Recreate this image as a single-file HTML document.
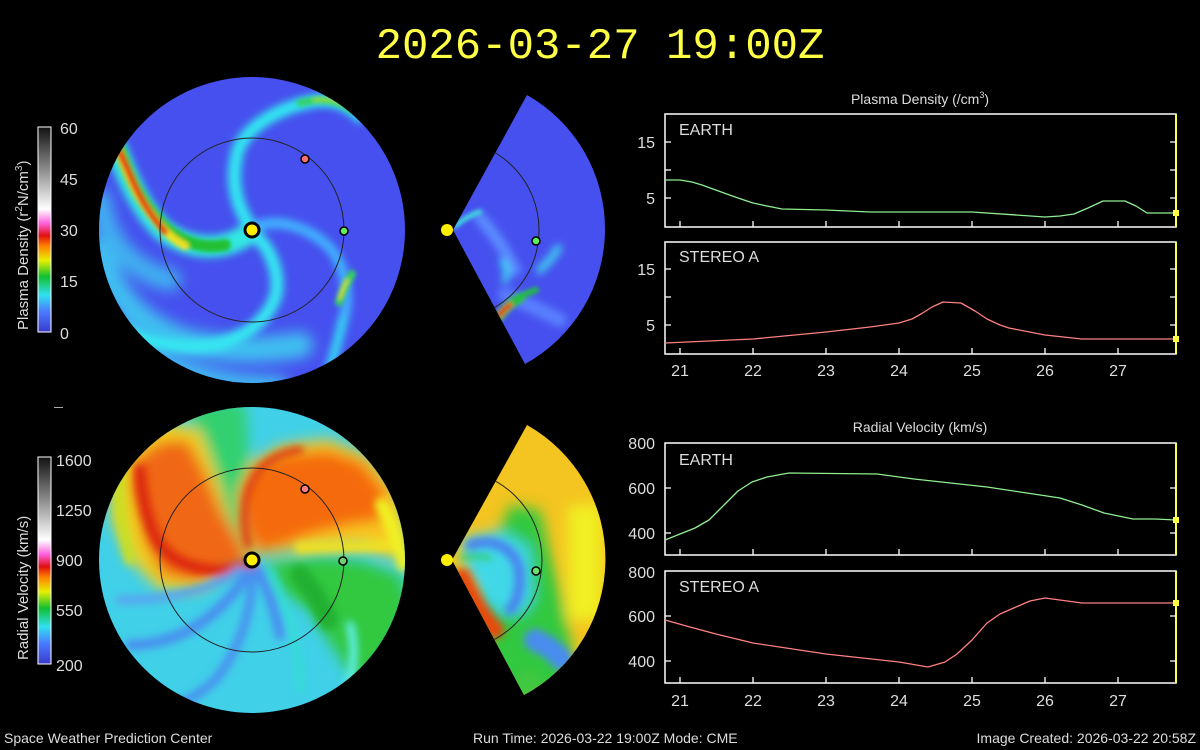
<!DOCTYPE html>
<html><head><meta charset="utf-8"><style>
body{margin:0;background:#000;width:1200px;height:750px;overflow:hidden;font-family:"Liberation Sans",sans-serif}
svg{display:block}
</style></head><body>
<svg width="1200" height="750" viewBox="0 0 1200 750" xmlns="http://www.w3.org/2000/svg">
<defs>
<linearGradient id="cbD" x1="0" y1="1" x2="0" y2="0">
<stop offset="0" stop-color="#3a3acc"/><stop offset="0.1" stop-color="#4a7bff"/><stop offset="0.18" stop-color="#30e0f0"/><stop offset="0.27" stop-color="#10c030"/><stop offset="0.35" stop-color="#e8f000"/><stop offset="0.42" stop-color="#ff8000"/><stop offset="0.47" stop-color="#e01010"/><stop offset="0.53" stop-color="#ff60e0"/><stop offset="0.6" stop-color="#ffffff"/><stop offset="1" stop-color="#111"/>
</linearGradient>
<clipPath id="c1"><circle cx="252" cy="230" r="153"/></clipPath>
<clipPath id="c2"><circle cx="252" cy="560" r="153"/></clipPath>
<clipPath id="w1"><path d="M453,230 L527,95 A154,154 0 0 1 525,364 Z"/></clipPath>
<clipPath id="w2"><path d="M452,560 L527,425 A154,154 0 0 1 524,695 Z"/></clipPath>
<filter id="bl" x="-30%" y="-30%" width="160%" height="160%"><feGaussianBlur stdDeviation="7"/></filter>
<filter id="bm" x="-30%" y="-30%" width="160%" height="160%"><feGaussianBlur stdDeviation="4"/></filter>
<filter id="bl2" x="-30%" y="-30%" width="160%" height="160%"><feGaussianBlur stdDeviation="2"/></filter>
</defs>

<text x="600" y="58" fill="#ffff44" font-family="Liberation Mono,monospace" font-size="44" text-anchor="middle">2026-03-27 19:00Z</text>

<!-- density disk -->
<g clip-path="url(#c1)">
<rect x="90" y="70" width="330" height="330" fill="#4650ee"/>
<g filter="url(#bl)" fill="none" stroke-linecap="round">
<path d="M100,250 C110,300 150,335 200,345 C240,352 270,350 300,345" stroke="#40c0f0" stroke-width="26"/>
<path d="M100,200 C105,240 130,270 170,280" stroke="#40b0f0" stroke-width="22"/>
<path d="M120,330 C160,370 220,385 280,385" stroke="#40c8f0" stroke-width="16"/>
</g>
<g filter="url(#bm)" fill="none" stroke-linecap="round">
<path d="M248,234 C225,250 195,252 165,232 C145,215 130,185 116,148" stroke="#30e8e0" stroke-width="22"/>
<path d="M250,226 C236,205 230,180 238,150 C248,125 280,108 310,102 C330,98 345,102 360,116" stroke="#30e8f0" stroke-width="13"/>
<path d="M255,235 C272,250 280,275 276,295 C268,320 245,338 215,345 C180,350 150,342 120,330" stroke="#35e8f0" stroke-width="13"/>
<path d="M258,226 C280,218 310,228 330,248 C348,270 350,300 342,325 C337,345 332,360 326,385" stroke="#40b8ff" stroke-width="10"/>
<path d="M342,320 C337,345 332,362 326,385" stroke="#30d8f0" stroke-width="8"/>
</g>
<g filter="url(#bl2)" fill="none" stroke-linecap="round">
<path d="M225,245 C200,250 175,240 158,220 C140,200 130,180 120,150" stroke="#20c030" stroke-width="12"/>
<path d="M185,246 C165,236 150,215 138,195 C130,180 124,165 118,150" stroke="#f0e020" stroke-width="8"/>
<path d="M165,232 C150,215 138,195 130,175 C125,163 121,155 116,146" stroke="#e83010" stroke-width="6"/>
<path d="M300,103 C320,98 338,100 352,110" stroke="#30d060" stroke-width="7"/>
<path d="M314,100 C330,98 340,101 348,106" stroke="#a0e020" stroke-width="3"/>
<path d="M339,302 C342,292 346,284 352,274" stroke="#30d060" stroke-width="8"/>
<path d="M340,298 C342,291 344,286 347,280" stroke="#e0e020" stroke-width="3"/>
</g>
<circle cx="252" cy="230" r="92" fill="none" stroke="#222" stroke-width="1"/>
</g>
<!-- density wedge -->
<g clip-path="url(#w1)">
<rect x="440" y="90" width="170" height="280" fill="#4650ee"/>
<g filter="url(#bm)" fill="none" stroke-linecap="round">
<path d="M480,218 C495,235 505,250 515,270" stroke="#5a8cff" stroke-width="12"/>
<path d="M505,295 C520,300 540,310 560,320" stroke="#5a80ff" stroke-width="14"/>
<path d="M540,270 C548,262 555,255 558,248" stroke="#40c8f0" stroke-width="8"/>
<path d="M503,262 C507,268 508,275 505,280" stroke="#40d0f0" stroke-width="7"/>
</g>
<g filter="url(#bl2)" fill="none" stroke-linecap="round">
<path d="M455,226 C465,218 472,214 480,212" stroke="#40e0e0" stroke-width="5"/>
<path d="M498,318 C505,308 512,302 520,298" stroke="#30c050" stroke-width="10"/>
<path d="M499,316 C503,310 507,307 510,305" stroke="#e83010" stroke-width="5"/>
<path d="M515,300 C522,295 530,292 536,290" stroke="#20c040" stroke-width="6"/>
</g>
<circle cx="449" cy="230" r="90" fill="none" stroke="#222"/>
</g>

<!-- velocity disk -->
<g clip-path="url(#c2)">
<rect x="90" y="400" width="330" height="330" fill="#40d0e8"/>
<g filter="url(#bl)" stroke-linejoin="round">
<path d="M188,402 L245,402 L250,470 L245,520 L260,560 L225,560 L210,510 Z" fill="#30d070"/>
<path d="M110,440 L160,420 L200,430 L215,470 L230,520 L250,555 L200,590 L160,590 L130,560 L112,520 Z" fill="#f0d020"/>
<path d="M255,555 L242,529 L238,492 L252,462 L282,445 L328,439 L368,455 L395,485 L405,525 L400,560 L360,545 L312,548 L282,552 Z" fill="#f8c820"/>
<path d="M268,562 L328,557 L365,562 L400,575 L410,605 L392,655 L358,685 L328,640 L310,610 L282,592 Z" fill="#30c840"/>
<path d="M248,562 L195,582 L162,575 L145,542 L130,485 L134,459 L162,441 L188,440 L205,472 L222,512 L242,545 Z" fill="#f06818"/>
<path d="M258,552 L244,528 L242,492 L255,468 L282,455 L328,450 L362,462 L385,490 L385,520 L350,525 L310,535 L285,545 Z" fill="#f56a10"/>
</g>
<g filter="url(#bm)" fill="none" stroke-linecap="round">
<path d="M250,565 C215,575 180,570 160,545 C148,525 142,500 140,470" stroke="#dc2c10" stroke-width="12"/>
<path d="M248,545 C242,520 244,495 256,475 C268,458 285,452 300,450" stroke="#e04010" stroke-width="8"/>
<path d="M120,470 C118,500 122,530 130,560" stroke="#c8e020" stroke-width="10"/>
<path d="M300,548 C330,545 360,548 390,545" stroke="#f0e020" stroke-width="12"/>
<path d="M300,575 C312,590 322,605 328,620" stroke="#20b030" stroke-width="20"/>
<path d="M382,505 C392,525 400,545 404,565" stroke="#f0f020" stroke-width="14"/>
<path d="M258,570 C268,590 276,612 280,635" stroke="#4a8cf0" stroke-width="10"/>
<path d="M248,572 C235,595 215,615 190,630 C170,640 150,645 130,645" stroke="#4a8cf0" stroke-width="10"/>
<path d="M252,575 C252,610 240,650 215,680 C205,690 190,700 175,705" stroke="#4a90f0" stroke-width="9"/>
<path d="M240,570 C210,590 170,600 120,600" stroke="#5aa0f0" stroke-width="8"/>
<path d="M270,572 C285,600 300,640 300,690" stroke="#30e0d0" stroke-width="6"/>
<path d="M350,625 C355,645 355,665 348,685" stroke="#60f0f0" stroke-width="8"/>
</g>
<circle cx="252" cy="560" r="92" fill="none" stroke="#222"/>
</g>
<!-- velocity wedge -->
<g clip-path="url(#w2)">
<rect x="440" y="420" width="170" height="280" fill="#f4c420"/>
<g filter="url(#bl)" stroke-linejoin="round">
<path d="M510,505 L540,510 L548,545 L562,600 L572,650 L560,690 L500,700 L475,600 Z" fill="#30c840"/>
<path d="M568,505 L602,505 L602,620 L568,620 Z" fill="#f0f020"/>
<path d="M462,540 L500,530 L530,548 L533,600 L520,615 L490,610 L465,570 Z" fill="#40d8e8"/>
</g>
<g filter="url(#bm)" fill="none" stroke-linecap="round">
<path d="M470,545 C490,538 510,545 518,565 C522,585 518,600 510,610" stroke="#4a80f0" stroke-width="10"/>
<path d="M535,640 C545,645 555,650 562,660" stroke="#4a8cf0" stroke-width="22"/>
<path d="M462,577 C472,600 485,620 495,630" stroke="#e84a10" stroke-width="18"/>
<path d="M462,558 C475,555 485,556 490,558" stroke="#30c840" stroke-width="4"/>
<path d="M530,680 C520,690 512,692 510,692" stroke="#40c840" stroke-width="20"/>
</g>
<circle cx="452" cy="560" r="90" fill="none" stroke="#222"/>
</g>

<!-- planets -->
<circle cx="252" cy="230" r="7" fill="#ffee00" stroke="#000" stroke-width="3"/>
<circle cx="305" cy="159" r="4" fill="#ff7070" stroke="#000" stroke-width="1.5"/>
<circle cx="344" cy="231" r="4" fill="#60ee60" stroke="#000" stroke-width="1.5"/>
<circle cx="447" cy="230" r="6" fill="#ffee00"/>
<circle cx="536" cy="241" r="4" fill="#60ee60" stroke="#000" stroke-width="1.5"/>
<circle cx="252" cy="560" r="7" fill="#ffee00" stroke="#000" stroke-width="3"/>
<circle cx="305" cy="489" r="4" fill="#ff8080" stroke="#000" stroke-width="1.5"/>
<circle cx="343" cy="561" r="4" fill="#70d070" stroke="#000" stroke-width="1.5"/>
<circle cx="447" cy="560" r="6" fill="#ffee00"/>
<circle cx="536" cy="571" r="4" fill="#70e070" stroke="#000" stroke-width="1.5"/>

<!-- colorbars -->
<rect x="38" y="127" width="13" height="205" fill="url(#cbD)" stroke="#fff" stroke-width="1"/>
<rect x="38" y="457" width="13" height="207" fill="url(#cbD)" stroke="#fff" stroke-width="1"/>
<g fill="#ddd" font-size="16">
<text x="60" y="134">60</text><text x="60" y="185">45</text><text x="60" y="236">30</text><text x="60" y="287">15</text><text x="60" y="339">0</text>
<text x="56" y="466">1600</text><text x="56" y="516">1250</text><text x="56" y="566">900</text><text x="56" y="616">550</text><text x="56" y="671">200</text>
</g>
<text transform="translate(28,330) rotate(-90)" fill="#ddd" font-size="15">Plasma Density (r<tspan font-size="10" dy="-6">2</tspan><tspan dy="6">N/cm</tspan><tspan font-size="10" dy="-6">3</tspan><tspan dy="6">)</tspan></text>
<text transform="translate(28,660) rotate(-90)" fill="#ddd" font-size="15">Radial Velocity (km/s)</text>
<rect x="54" y="407" width="9" height="1" fill="#aaa"/>

<!-- right panels -->
<g fill="none" stroke="#fff" stroke-width="1.5">
<rect x="665" y="114" width="511" height="113"/>
<rect x="665" y="242" width="511" height="112"/>
<rect x="665" y="443" width="511" height="112"/>
<rect x="665" y="571" width="511" height="112"/>
</g>
<g stroke="#ffff44" stroke-width="2"><line x1="1176" y1="114" x2="1176" y2="227"/><line x1="1176" y1="242" x2="1176" y2="354"/><line x1="1176" y1="443" x2="1176" y2="555"/><line x1="1176" y1="571" x2="1176" y2="683"/></g>
<g stroke="#fff" stroke-width="1.3">
<path d="M680,227v-6M753,227v-6M826,227v-6M899,227v-6M972,227v-6M1045,227v-6M1118,227v-6"/>
<path d="M680,354v-6M753,354v-6M826,354v-6M899,354v-6M972,354v-6M1045,354v-6M1118,354v-6"/>
<path d="M680,555v-6M753,555v-6M826,555v-6M899,555v-6M972,555v-6M1045,555v-6M1118,555v-6"/>
<path d="M680,683v-6M753,683v-6M826,683v-6M899,683v-6M972,683v-6M1045,683v-6M1118,683v-6"/>
<path d="M665,142h6M665,170h6M665,198h6M1176,142h-6M1176,170h-6M1176,198h-6"/>
<path d="M665,269h6M665,297h6M665,325h6M1176,269h-6M1176,297h-6M1176,325h-6"/>
<path d="M665,488h6M665,533h6M1176,488h-6M1176,533h-6"/>
<path d="M665,616h6M665,661h6M1176,616h-6M1176,661h-6"/>
</g>
<g fill="#ddd" font-size="16" text-anchor="end">
<text x="655" y="148">15</text><text x="655" y="204">5</text>
<text x="655" y="275">15</text><text x="655" y="331">5</text>
<text x="655" y="449">800</text><text x="655" y="494">600</text><text x="655" y="539">400</text>
<text x="655" y="578">800</text><text x="655" y="622">600</text><text x="655" y="667">400</text>
</g>
<g fill="#ddd" font-size="16" text-anchor="middle">
<text x="680" y="376">21</text><text x="753" y="376">22</text><text x="826" y="376">23</text><text x="899" y="376">24</text><text x="972" y="376">25</text><text x="1045" y="376">26</text><text x="1118" y="376">27</text>
<text x="680" y="706">21</text><text x="753" y="706">22</text><text x="826" y="706">23</text><text x="899" y="706">24</text><text x="972" y="706">25</text><text x="1045" y="706">26</text><text x="1118" y="706">27</text>
<text x="920" y="104" font-size="14">Plasma Density (/cm<tspan font-size="9" dy="-6">3</tspan><tspan dy="6">)</tspan></text>
<text x="920" y="432" font-size="14">Radial Velocity (km/s)</text>
</g>
<g fill="#ddd" font-size="16">
<text x="679" y="135">EARTH</text><text x="679" y="262">STEREO A</text>
<text x="679" y="465">EARTH</text><text x="679" y="592">STEREO A</text>
</g>
<g fill="none" stroke-width="1.3" stroke-linejoin="round">
<polyline stroke="#90ee90" points="665,180 680,180 692,182 702,185 713,189 724,193 738,198 753,203 767,206 782,209 826,210 870,212 972,212 1045,217 1060,216 1074,214 1088,208 1103,201 1125,201 1136,206 1147,213 1176,213"/>
<polyline stroke="#ff8080" points="665,343 753,339 826,332 870,327 899,323 912,319 921,314 932,307 943,302 961,303 975,311 987,319 1000,325 1009,328 1045,335 1082,339 1176,339"/>
<polyline stroke="#90ee90" points="665,540 680,534 695,528 709,520 724,505 738,491 752,482 767,477 789,473 877,474 914,479 987,487 1060,498 1082,505 1104,513 1133,519 1155,519 1176,520"/>
<polyline stroke="#ff8080" points="665,620 690,627 716,634 753,643 826,654 899,662 928,667 945,662 957,654 972,640 987,623 1000,614 1016,607 1030,601 1045,598 1082,603 1176,603"/>
</g>
<g fill="#ffff44"><rect x="1173" y="210" width="6" height="6"/><rect x="1173" y="336" width="6" height="6"/><rect x="1173" y="517" width="6" height="6"/><rect x="1173" y="600" width="6" height="6"/></g>

<g fill="#ddd" font-size="14">
<text x="4" y="743">Space Weather Prediction Center</text>
<text x="473" y="743">Run Time: 2026-03-22 19:00Z  Mode: CME</text>
<text x="1196" y="743" text-anchor="end">Image Created: 2026-03-22 20:58Z</text>
</g>
</svg>
</body></html>
